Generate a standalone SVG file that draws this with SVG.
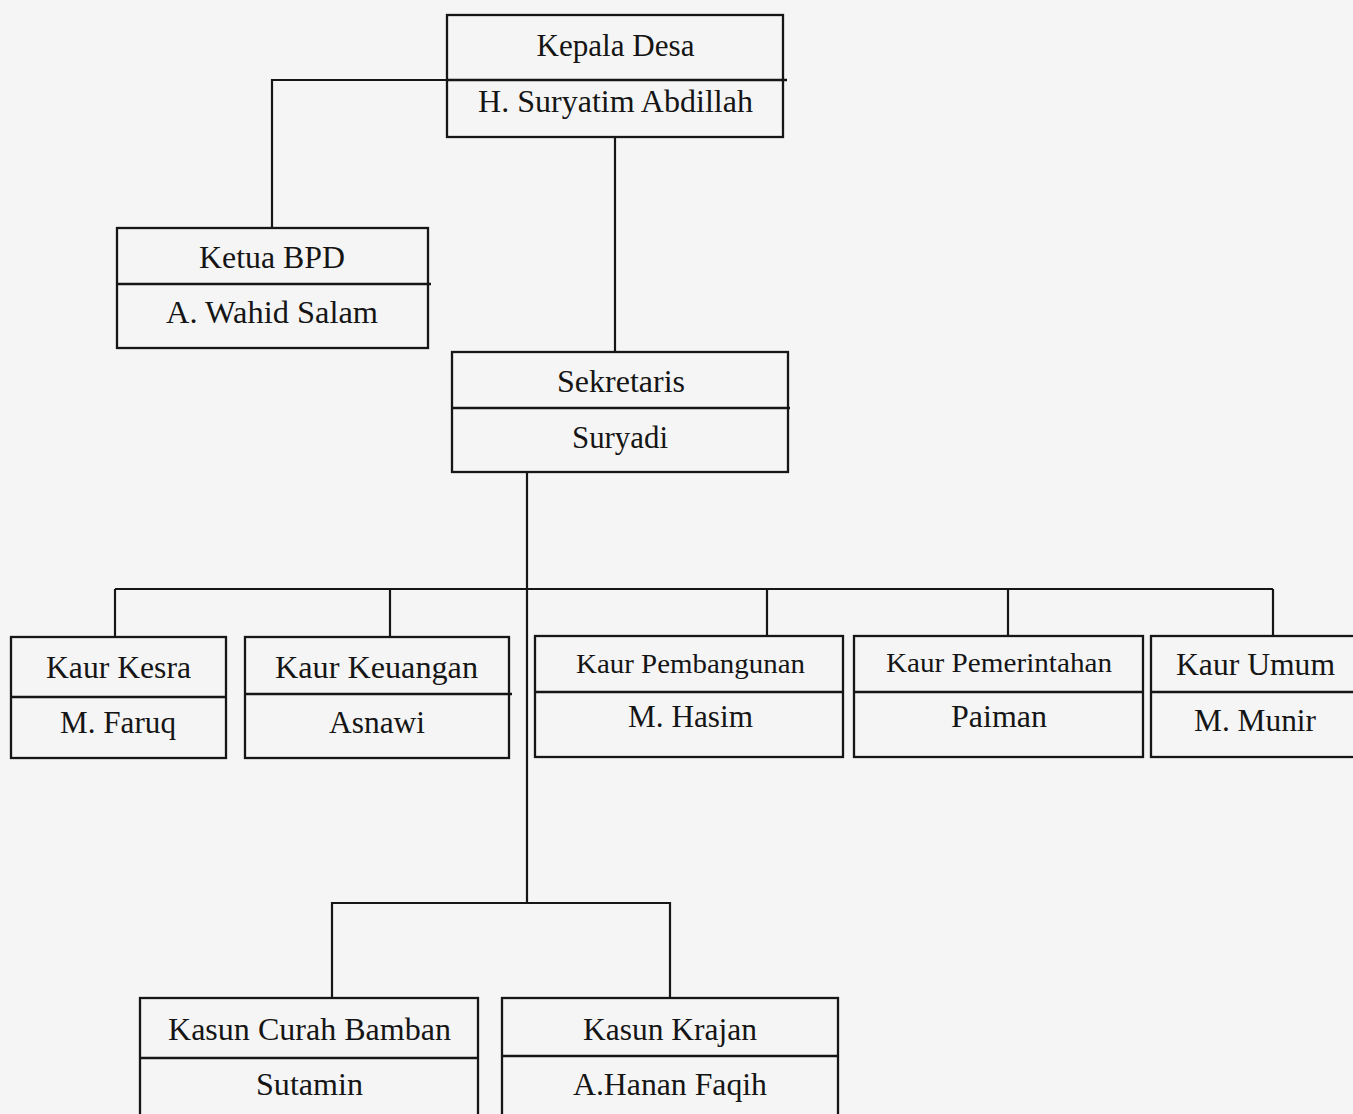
<svg xmlns="http://www.w3.org/2000/svg" width="1353" height="1114" viewBox="0 0 1353 1114">
<style>
.box{fill:none;stroke:#161616;stroke-width:2.3}
.div{stroke:#161616;stroke-width:2.3}
.con{fill:none;stroke:#161616;stroke-width:2.2}
text{font-family:"Liberation Serif","Times New Roman",serif;font-size:31px;fill:#151515;text-anchor:middle}
.sm{font-size:27px}
</style>
<rect width="1353" height="1114" fill="#f5f5f5"/>
<g id="connectors">
<polyline class="con" points="446,80 272,80 272,228"/>
<line class="con" x1="615" y1="137" x2="615" y2="352"/>
<line class="con" x1="527" y1="472" x2="527" y2="903"/>
<line class="con" x1="115" y1="589" x2="1273" y2="589"/>
<line class="con" x1="115" y1="589" x2="115" y2="637"/>
<line class="con" x1="390" y1="589" x2="390" y2="637"/>
<line class="con" x1="767" y1="589" x2="767" y2="636"/>
<line class="con" x1="1008" y1="589" x2="1008" y2="636"/>
<line class="con" x1="1273" y1="589" x2="1273" y2="636"/>
<polyline class="con" points="332,998 332,903 670,903 670,998"/>
</g>
<g id="kepala-desa">
<rect class="box" x="447" y="15" width="336" height="122"/>
<line class="div" x1="447" y1="80" x2="787" y2="80"/>
<text x="615.5" y="56" textLength="158" lengthAdjust="spacingAndGlyphs">Kepala Desa</text>
<text x="615.5" y="112" textLength="275" lengthAdjust="spacingAndGlyphs">H. Suryatim Abdillah</text>
</g>
<g id="ketua-bpd">
<rect class="box" x="117" y="228" width="311" height="120"/>
<line class="div" x1="117" y1="284" x2="431" y2="284"/>
<text x="272" y="268" textLength="146" lengthAdjust="spacingAndGlyphs">Ketua BPD</text>
<text x="272" y="323" textLength="212" lengthAdjust="spacingAndGlyphs">A. Wahid Salam</text>
</g>
<g id="sekretaris">
<rect class="box" x="452" y="352" width="336" height="120"/>
<line class="div" x1="452" y1="408" x2="790" y2="408"/>
<text x="621" y="392" textLength="128" lengthAdjust="spacingAndGlyphs">Sekretaris</text>
<text x="620" y="448" textLength="96" lengthAdjust="spacingAndGlyphs">Suryadi</text>
</g>
<g id="kaur-kesra">
<rect class="box" x="11" y="637" width="215" height="121"/>
<line class="div" x1="11" y1="697" x2="226" y2="697"/>
<text x="118.5" y="678" textLength="145" lengthAdjust="spacingAndGlyphs">Kaur Kesra</text>
<text x="118" y="733" textLength="116" lengthAdjust="spacingAndGlyphs">M. Faruq</text>
</g>
<g id="kaur-keuangan">
<rect class="box" x="245" y="637" width="264" height="121"/>
<line class="div" x1="245" y1="694" x2="512" y2="694"/>
<text x="376.5" y="678" textLength="203" lengthAdjust="spacingAndGlyphs">Kaur Keuangan</text>
<text x="377" y="733" textLength="96" lengthAdjust="spacingAndGlyphs">Asnawi</text>
</g>
<g id="kaur-pembangunan">
<rect class="box" x="535" y="636" width="308" height="121"/>
<line class="div" x1="535" y1="692" x2="843" y2="692"/>
<text class="sm" x="690.5" y="673" textLength="229" lengthAdjust="spacingAndGlyphs">Kaur Pembangunan</text>
<text x="690.5" y="727" textLength="125" lengthAdjust="spacingAndGlyphs">M. Hasim</text>
</g>
<g id="kaur-pemerintahan">
<rect class="box" x="854" y="636" width="289" height="121"/>
<line class="div" x1="854" y1="692" x2="1143" y2="692"/>
<text class="sm" x="999" y="672" textLength="226" lengthAdjust="spacingAndGlyphs">Kaur Pemerintahan</text>
<text x="999" y="727" textLength="96" lengthAdjust="spacingAndGlyphs">Paiman</text>
</g>
<g id="kaur-umum">
<rect class="box" x="1151" y="636" width="210" height="121"/>
<line class="div" x1="1151" y1="692" x2="1353" y2="692"/>
<text x="1255.5" y="675" textLength="159" lengthAdjust="spacingAndGlyphs">Kaur Umum</text>
<text x="1255" y="731" textLength="122" lengthAdjust="spacingAndGlyphs">M. Munir</text>
</g>
<g id="kasun-curah-bamban">
<rect class="box" x="140" y="998" width="338" height="130"/>
<line class="div" x1="140" y1="1058" x2="478" y2="1058"/>
<text x="309.5" y="1040" textLength="283" lengthAdjust="spacingAndGlyphs">Kasun Curah Bamban</text>
<text x="309.5" y="1095" textLength="107" lengthAdjust="spacingAndGlyphs">Sutamin</text>
</g>
<g id="kasun-krajan">
<rect class="box" x="502" y="998" width="336" height="130"/>
<line class="div" x1="502" y1="1056" x2="838" y2="1056"/>
<text x="670" y="1040" textLength="174" lengthAdjust="spacingAndGlyphs">Kasun Krajan</text>
<text x="670" y="1095" textLength="194" lengthAdjust="spacingAndGlyphs">A.Hanan Faqih</text>
</g>
</svg>
